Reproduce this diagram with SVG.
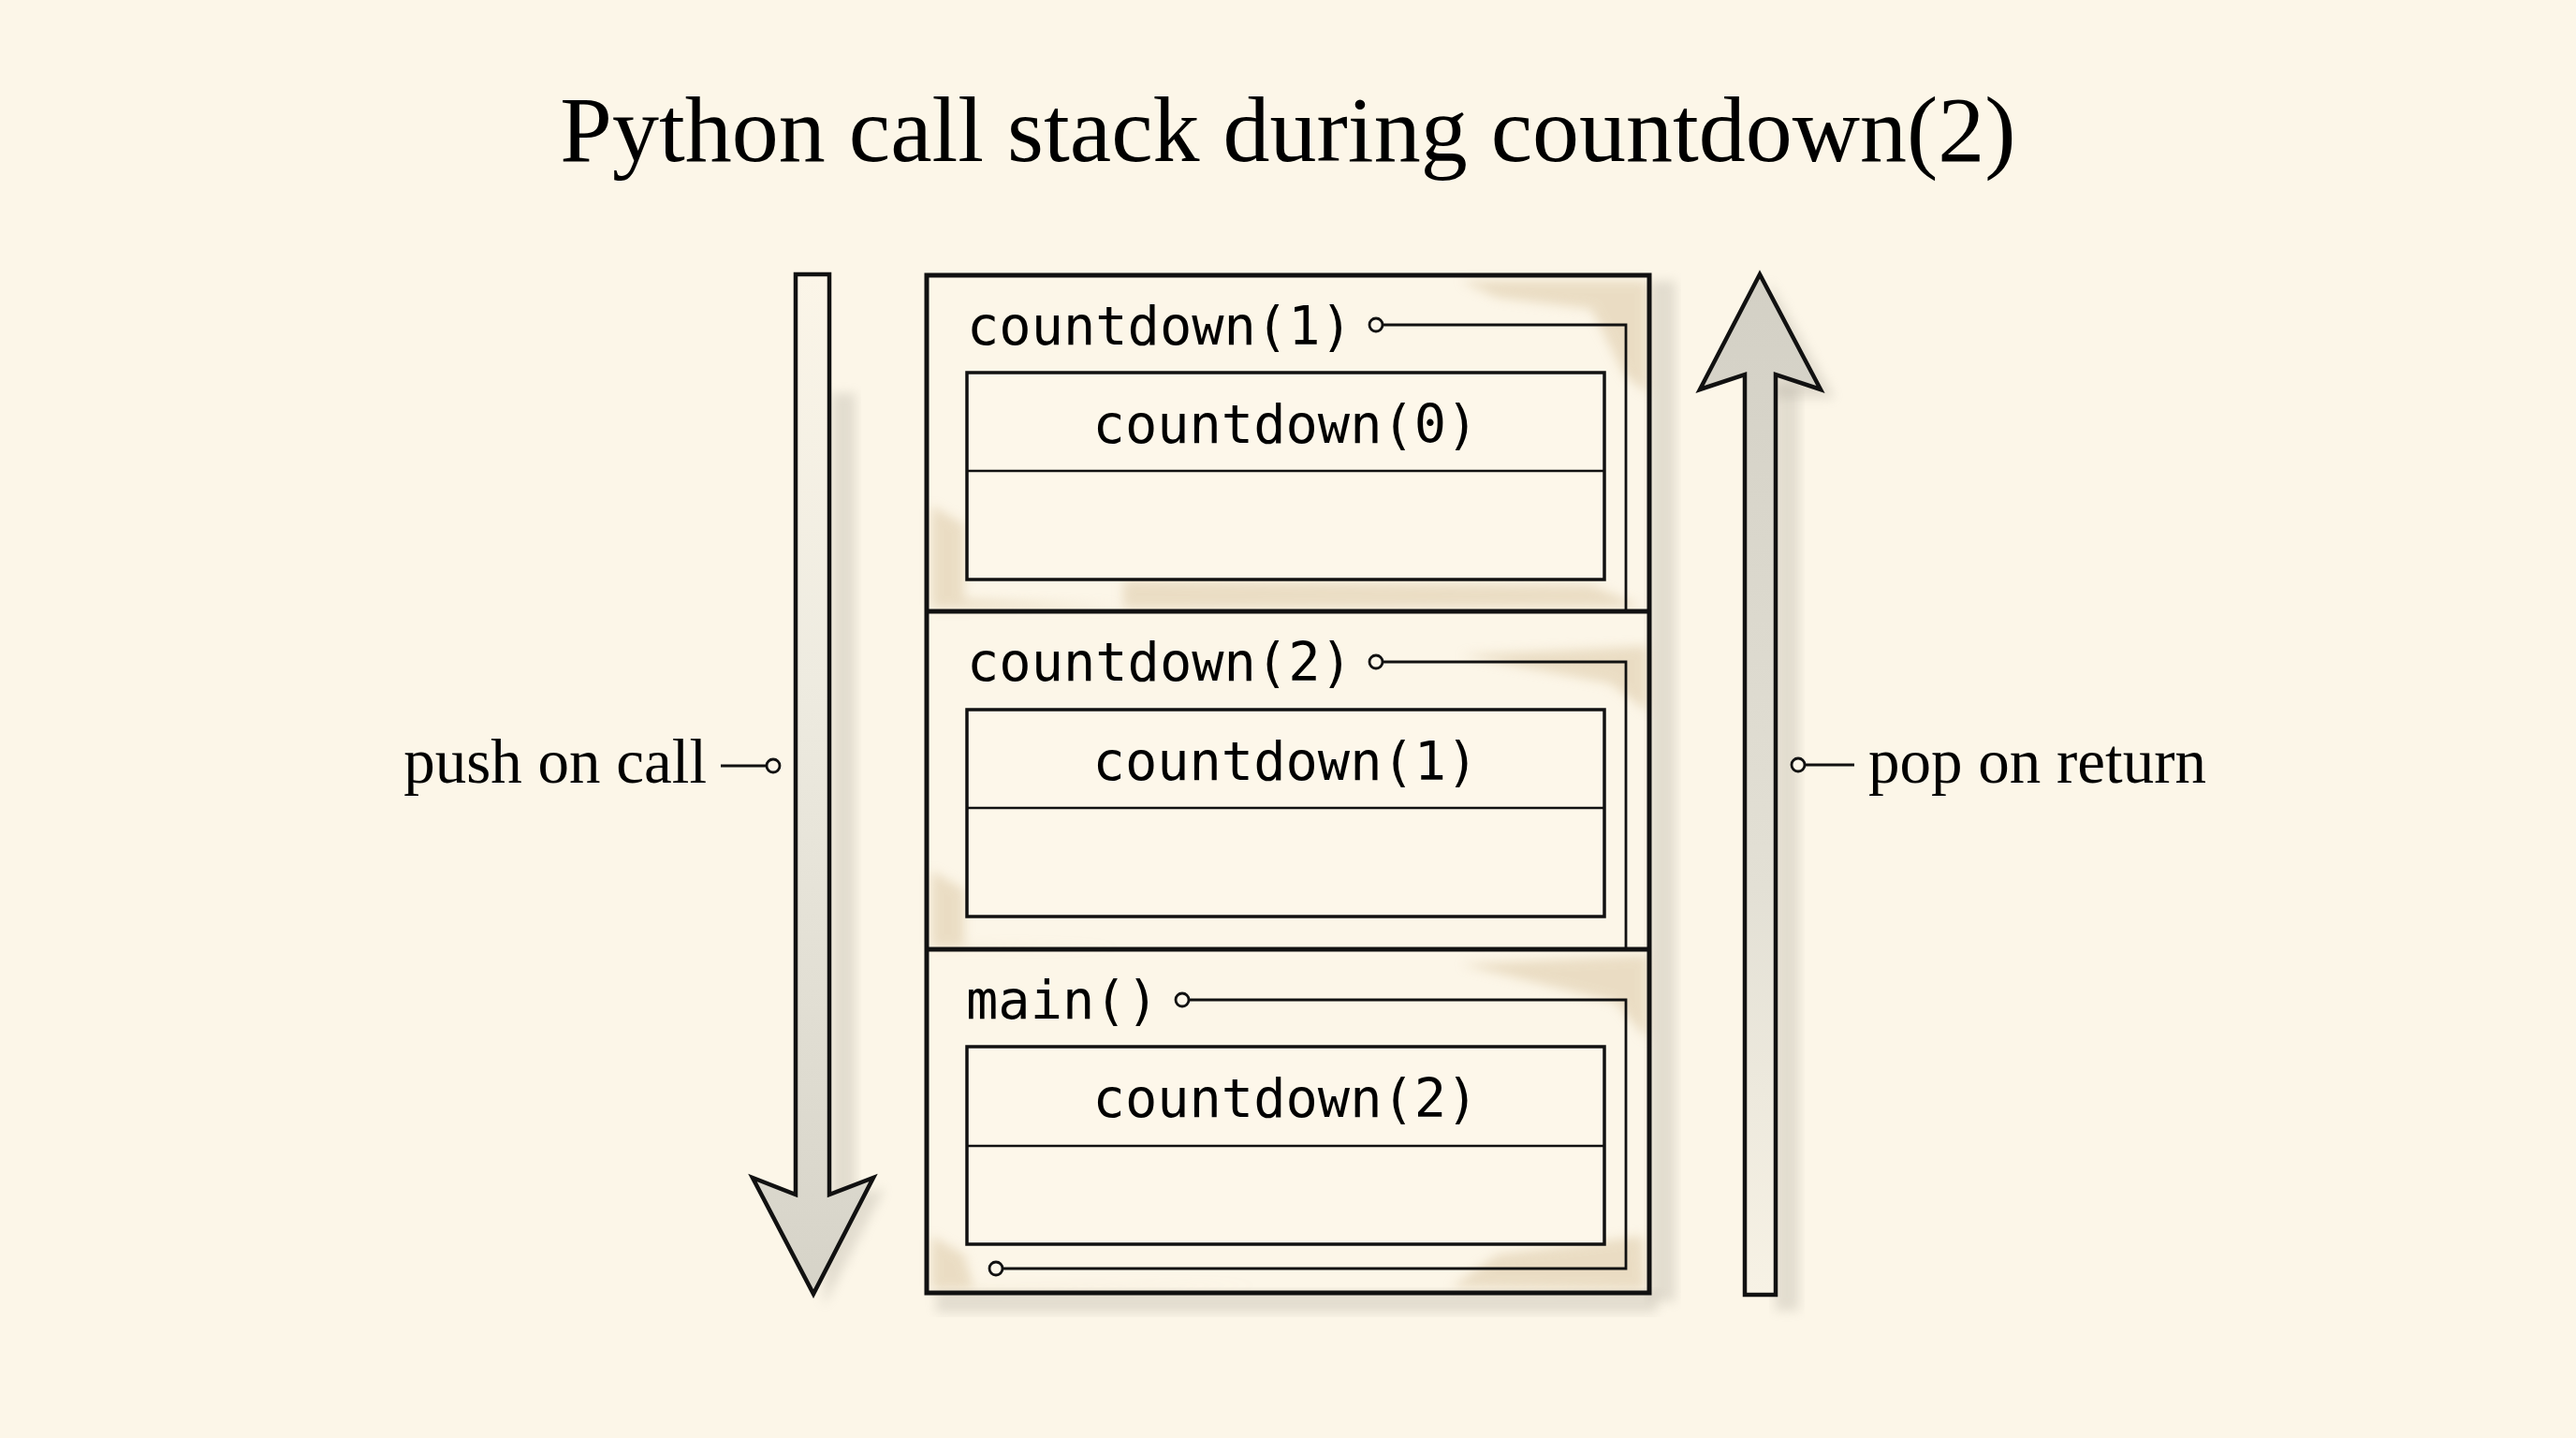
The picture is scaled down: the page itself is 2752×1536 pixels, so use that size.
<svg xmlns="http://www.w3.org/2000/svg" width="2752" height="1536" viewBox="0 0 2752 1536">
<style>
.title{font-family:"Liberation Serif","Times New Roman",serif;font-size:100px;fill:#000;}
.lbl{font-family:"Liberation Serif","Times New Roman",serif;font-size:67px;fill:#000;}
.code{font-family:"DejaVu Sans Mono","Liberation Mono",monospace;font-size:57px;fill:#000;}
.outer{fill:none;stroke:#111;stroke-width:5;}
.sep{stroke:#111;stroke-width:5;}
.inner{fill:#fdf7ea;stroke:#111;stroke-width:3.5;}
.div{stroke:#111;stroke-width:2.5;}
.conn{fill:none;stroke:#111;stroke-width:2.8;}
.dot{fill:#fdf7ea;stroke:#111;stroke-width:2.8;}
.arrow{stroke:#111;stroke-width:4.5;stroke-linejoin:miter;}
.stain{fill:#d9c4a0;opacity:0.5;filter:url(#blur);}
.shadow{fill:#a8a396;opacity:0.3;filter:url(#blur);}
</style>
<defs>
<filter id="blur" x="-20%" y="-20%" width="140%" height="140%"><feGaussianBlur stdDeviation="6"/></filter>
<linearGradient id="downfill" x1="0" y1="0" x2="0" y2="1">
<stop offset="0" stop-color="#fbf5e8"/>
<stop offset="0.4" stop-color="#eeebe0"/>
<stop offset="1" stop-color="#d6d3c8"/>
</linearGradient>
<linearGradient id="upfill" x1="0" y1="0" x2="0" y2="1">
<stop offset="0" stop-color="#d3d0c5"/>
<stop offset="0.6" stop-color="#e3e0d5"/>
<stop offset="1" stop-color="#f7f2e5"/>
</linearGradient>
</defs>
<rect width="2752" height="1536" fill="#fcf6e8"/>

<text id="title" class="title" x="1376" y="172" text-anchor="middle">Python call stack during countdown(2)</text>

<g id="wash">
<rect class="shadow" x="1762" y="300" width="28" height="1090"/>
<rect class="shadow" x="1000" y="1380" width="770" height="22"/>
<rect class="shadow" x="888" y="420" width="26" height="860"/>
<rect class="shadow" x="1896" y="410" width="26" height="990"/>
<polygon class="shadow" points="1890,300 1960,425 1895,425"/>
<polygon class="shadow" points="880,1280 945,1270 880,1395"/>
<path class="stain" d="M1560,300 L1760,300 L1760,420 L1735,400 L1700,330 L1600,318 Z"/>
<path class="stain" d="M995,540 L1030,560 L1030,640 L1200,648 L995,650 Z"/>
<path class="stain" d="M1200,620 L1700,625 L1755,648 L1200,650 Z"/>
<path class="stain" d="M995,930 L1030,950 L1030,1010 L1200,1012 L995,1012 Z"/>
<path class="stain" d="M1560,700 L1760,690 L1760,760 L1720,730 Z"/>
<path class="stain" d="M1560,1030 L1760,1020 L1760,1110 L1725,1070 Z"/>
<path class="stain" d="M995,1320 L1030,1340 L1040,1375 L1350,1372 L995,1378 Z"/>
<path class="stain" d="M1600,1340 L1755,1320 L1758,1378 L1550,1375 Z"/>
</g>

<g id="arrow-push">
<polygon class="arrow" fill="url(#downfill)" points="850,293 886,293 886,1276 933,1258 869,1382 804,1258 850,1276"/>
<text class="lbl" x="755" y="836" text-anchor="end">push on call</text>
</g>

<g id="arrow-pop">
<polygon class="arrow" fill="url(#upfill)" points="1880,293 1945,416 1897,400 1897,1383 1864,1383 1864,400 1816,416"/>
<text class="lbl" x="1996" y="836">pop on return</text>
</g>

<g id="stack">
<rect class="outer" x="990" y="294" width="772" height="1087"/>
<line class="sep" x1="990" y1="653" x2="1762" y2="653"/>
<line class="sep" x1="990" y1="1014" x2="1762" y2="1014"/>
</g>

<g id="frame-countdown1">
<text class="code" x="1033" y="368">countdown(1)</text>
<rect class="inner" x="1033" y="398" width="681" height="221"/>
<line class="div" x1="1033" y1="503" x2="1714" y2="503"/>
<text class="code" x="1373.5" y="473" text-anchor="middle">countdown(0)</text>
</g>

<g id="frame-countdown2">
<text class="code" x="1033" y="727">countdown(2)</text>
<rect class="inner" x="1033" y="758" width="681" height="221"/>
<line class="div" x1="1033" y1="863" x2="1714" y2="863"/>
<text class="code" x="1373.5" y="833" text-anchor="middle">countdown(1)</text>
</g>

<g id="frame-main">
<text class="code" x="1032" y="1088">main()</text>
<rect class="inner" x="1033" y="1118" width="681" height="211"/>
<line class="div" x1="1033" y1="1224" x2="1714" y2="1224"/>
<text class="code" x="1373.5" y="1193" text-anchor="middle">countdown(2)</text>
</g>

<g id="connectors">
<path class="conn" d="M1477,347 H1737 V653"/>
<path class="conn" d="M1477,707 H1737 V1014"/>
<path class="conn" d="M1270,1068 H1737 V1355 H1071"/>
<line class="conn" x1="770" y1="818" x2="819" y2="818"/>
<line class="conn" x1="1928" y1="817" x2="1981" y2="817"/>
<circle class="dot" cx="1470" cy="347" r="7"/>
<circle class="dot" cx="1470" cy="707" r="7"/>
<circle class="dot" cx="1263" cy="1068" r="7"/>
<circle class="dot" cx="1064" cy="1355" r="7"/>
<circle class="dot" cx="826" cy="818" r="7"/>
<circle class="dot" cx="1921" cy="817" r="7"/>
</g>
</svg>
